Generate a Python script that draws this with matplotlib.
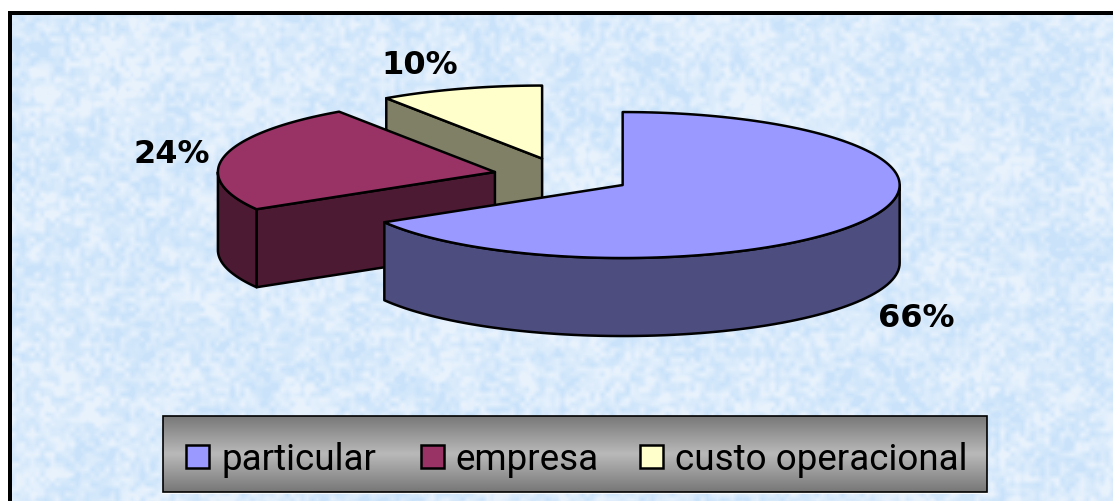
import numpy as np
import matplotlib
matplotlib.use('Agg')
import matplotlib.pyplot as plt
from matplotlib.patches import Polygon, Rectangle

# Chart data
categories = ['particular', 'empresa', 'custo operacional']
values = [66.49, 24.0, 9.51]
top_colors = ['#9999FF', '#993366', '#FFFFCC']
side_colors = ['#4D4D80', '#4D1A33', '#808066']

# Pie geometry, in pixels
center_x, center_y = 562.5, 177
radius_x, radius_y = 277, 73
depth = 78
explode = 0.25
line_w = 1.8

W, H = 1113, 502


# Mottled background built from a hash of the grid cells
def cell_noise(h, w, cell, seed):
    rows = h // cell + 2
    cols = w // cell + 2
    yy, xx = np.mgrid[0:rows, 0:cols]
    grid = np.sin(xx * 12.9898 + yy * 78.233 + seed) * 43758.5453
    grid = grid - np.floor(grid)
    y = np.arange(h) / cell
    x = np.arange(w) / cell
    y0 = y.astype(int)
    x0 = x.astype(int)
    fy = (y - y0)[:, None]
    fx = (x - x0)[None, :]
    a = grid[np.ix_(y0, x0)]
    b = grid[np.ix_(y0, x0 + 1)]
    c = grid[np.ix_(y0 + 1, x0)]
    d = grid[np.ix_(y0 + 1, x0 + 1)]
    return (a * (1 - fx) + b * fx) * (1 - fy) + (c * (1 - fx) + d * fx) * fy


def make_background(h, w):
    n = 0.45 * cell_noise(h, w, 5, 1.0) + 0.3 * cell_noise(h, w, 11, 2.0) + 0.25 * cell_noise(h, w, 40, 3.0)
    n = np.clip((n - 0.5) * 2.2 + 0.5, 0, 1)[:, :, None]
    dark = np.array([202, 227, 250]) / 255
    light = np.array([232, 242, 253]) / 255
    return dark + (light - dark) * n


# Point on the ellipse, angle is clockwise from 12 o'clock
def rim(cx, cy, angle):
    t = np.radians(angle)
    return cx + radius_x * np.sin(t), cy - radius_y * np.cos(t)


def draw_slice(ax, start, end, top, side, z):
    mid = (start + end) / 2
    cx = center_x + explode * radius_x * np.sin(np.radians(mid))
    cy = center_y - explode * radius_y * np.cos(np.radians(mid))
    style = dict(edgecolor='black', linewidth=line_w, joinstyle='round', zorder=z)

    # cut faces, only those turned to the viewer
    for angle, show in ((start, 180 < start < 360), (end, 0 < end < 180)):
        if show:
            px, py = rim(cx, cy, angle)
            ax.add_patch(Polygon([(cx, cy), (px, py), (px, py + depth), (cx, cy + depth)],
                                 facecolor=side, **style))

    # outer wall, front half of the rim only
    a0, a1 = max(start, 90), min(end, 270)
    if a1 > a0:
        ang = np.linspace(a0, a1, 80)
        xs, ys = rim(cx, cy, ang)
        pts = list(zip(xs, ys)) + list(zip(xs[::-1], ys[::-1] + depth))
        ax.add_patch(Polygon(pts, facecolor=side, **style))

    # top surface
    ang = np.linspace(start, end, 160)
    xs, ys = rim(cx, cy, ang)
    ax.add_patch(Polygon([(cx, cy)] + list(zip(xs, ys)), facecolor=top, **style))


fig = plt.figure(figsize=(W / 100, H / 100), dpi=100, facecolor='white')
ax = fig.add_axes([0, 0, 1, 1])

# Background and the black frame (top and left only)
ax.imshow(make_background(H - 15, W - 12), extent=(12, W, H, 15), aspect='auto', zorder=0, interpolation='bilinear')
ax.add_patch(Rectangle((8, 12), W - 8, 3.5, facecolor='black', edgecolor='none', zorder=1))
ax.add_patch(Rectangle((8, 12), 4, H - 12, facecolor='black', edgecolor='none', zorder=1))

# Slices, back to front
bounds = np.cumsum([0] + values) * 3.6
draw_order = [2, 1, 0]
for z, i in enumerate(draw_order):
    draw_slice(ax, bounds[i], bounds[i + 1], top_colors[i], side_colors[i], 2 + z)

# Percent labels
label_pos = [(916, 319), (172, 155), (420, 65)]
for (lx, ly), v in zip(label_pos, values):
    ax.text(lx, ly, f'{v:.0f}%', ha='center', va='center', fontsize=23,
            fontfamily='DejaVu Sans', fontweight='bold', color='black', zorder=10)

# Legend box with grey gradient
gy = np.abs(np.linspace(-1, 1, 76))[:, None]
grad = 185 - 65 * gy
ax.imshow(grad, extent=(163, 987, 493, 417), cmap='gray', vmin=0, vmax=255, aspect='auto', zorder=10)
ax.plot([163, 987], [494, 494], color='white', lw=1.2, zorder=10)
ax.add_patch(Rectangle((163, 417), 824, 76, facecolor='none', edgecolor='black', linewidth=1.2, zorder=11))

swatch_x = [186, 421, 640]
text_x = [222, 455, 675]
for sx, tx, name, col in zip(swatch_x, text_x, categories, top_colors):
    ax.add_patch(Rectangle((sx, 446), 23, 23, facecolor=col, edgecolor='black', linewidth=1.8, zorder=11))
    ax.text(tx, 470, name, ha='left', va='baseline', fontsize=26.5, fontfamily='Roboto', color='black', zorder=11)

ax.set_xlim(0, W)
ax.set_ylim(H, 0)
ax.axis('off')

fig.savefig('out.png', dpi=100)
